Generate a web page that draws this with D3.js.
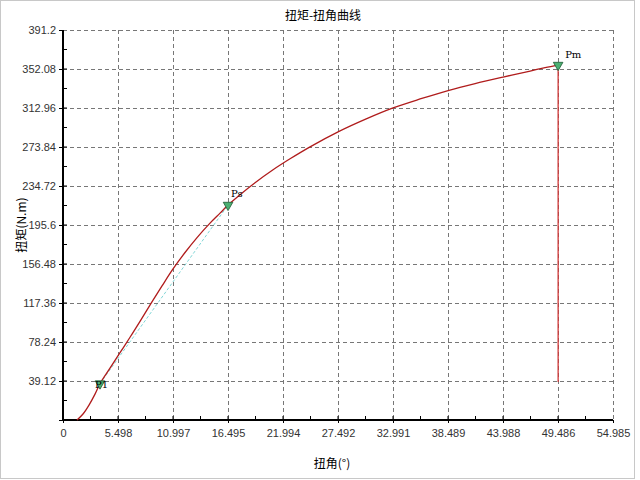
<!DOCTYPE html>
<html>
<head>
<meta charset="utf-8">
<script src="https://cdn.jsdelivr.net/npm/d3@7"></script>
<style>
body { margin:0; background:#fff; }
svg { display:block; }
.tick text { font-family:"Liberation Sans", Arial, sans-serif; font-size:11px; fill:#333; }
</style>
</head>
<body>
<svg id="ChartSvg" width="640" height="480"></svg>
<script>
// curve data (扭角, 扭矩)
var AngleValues = [1.4, 2.0, 2.6, 3.2, 3.7, 4.7, 5.7, 6.7, 7.7, 8.8, 9.9, 11.0, 12.2, 13.4, 14.7, 15.7, 16.5, 17.7, 19.2, 21.0, 22.7, 24.7, 27.5, 30.2, 33.0, 35.7, 38.5, 41.2, 44.0, 46.7, 48.2, 49.5];
var TorqueValues = [0, 6, 15, 26, 36.5, 52, 67.5, 83, 99, 117, 134.5, 151.5, 168, 183, 197.5, 207.5, 215.6, 226, 238, 251, 262, 274, 289, 301.5, 313, 322, 330.5, 337.5, 344, 350, 353.5, 356];

var XTickValues = [0, 5.4985, 10.997, 16.4955, 21.994, 27.4925, 32.991, 38.4895, 43.988, 49.4865, 54.985];
var XTickLabels = ["0","5.498","10.997","16.495","21.994","27.492","32.991","38.489","43.988","49.486","54.985"];
var YTickValues = [0, 39.12, 78.24, 117.36, 156.48, 195.6, 234.72, 273.84, 312.96, 352.08, 391.2];
var YTickLabels = ["","39.12","78.24","117.36","156.48","195.6","234.72","273.84","312.96","352.08","391.2"];

// feature points
var PointNames = ["P1", "Pd", "Pm"];
var PointX = [3.7, 16.5, 49.5];
var PointY = [36.5, 215.6, 356.0];
var DropLineY = [356.0, 38.0];

var Svg = d3.select("#ChartSvg");
var Left = 63, Right = 613, Top = 30, Bottom = 420;

var X = d3.scaleLinear().domain([0, 54.985]).range([Left, Right]);
var Y = d3.scaleLinear().domain([0, 391.2]).range([Bottom, Top]);

// outer frame
Svg.append("rect").attr("x",0.5).attr("y",0.5).attr("width",634).attr("height",478)
	.style("fill","none").style("stroke","#c8c8c8");

// grid
var Grid = Svg.append("g");
Grid.selectAll(".vg").data(XTickValues.slice(1)).enter().append("line")
	.attr("x1",function(d){ return Math.round(X(d))+0.5; })
	.attr("x2",function(d){ return Math.round(X(d))+0.5; })
	.attr("y1",Top).attr("y2",Bottom)
	.style("stroke","#777").style("stroke-dasharray","4,3");
Grid.selectAll(".hg").data(YTickValues.slice(1)).enter().append("line")
	.attr("y1",function(d){ return Math.round(Y(d))+0.5; })
	.attr("y2",function(d){ return Math.round(Y(d))+0.5; })
	.attr("x1",Left).attr("x2",Right)
	.style("stroke","#777").style("stroke-dasharray","4,3");

// axes
var XAxis = d3.axisBottom(X).tickValues(XTickValues)
	.tickFormat(function(d,i){ return XTickLabels[i]; }).tickSize(3).tickPadding(6);
var YAxis = d3.axisLeft(Y).tickValues(YTickValues)
	.tickFormat(function(d,i){ return YTickLabels[i]; }).tickSize(4).tickPadding(3);

var XG = Svg.append("g").attr("transform","translate(0," + Bottom + ")").call(XAxis);
var YG = Svg.append("g").attr("transform","translate(" + Left + ",0)").call(YAxis);
XG.select(".domain").remove();
YG.select(".domain").remove();

// minor ticks inside
var XMinor = d3.range(0, 54.985, 54.985/20);
Svg.append("g").selectAll("line").data(XMinor).enter().append("line")
	.attr("x1",function(d){ return X(d); }).attr("x2",function(d){ return X(d); })
	.attr("y1",Bottom).attr("y2",Bottom-4).style("stroke","#000");
var YMinor = d3.range(0, 391.2, 391.2/20);
Svg.append("g").selectAll("line").data(YMinor).enter().append("line")
	.attr("y1",function(d){ return Y(d); }).attr("y2",function(d){ return Y(d); })
	.attr("x1",Left).attr("x2",Left+4).style("stroke","#000");

Svg.append("line").attr("x1",Left).attr("x2",Left).attr("y1",Top).attr("y2",Bottom+1)
	.style("stroke","#000").style("stroke-width",2);
Svg.append("line").attr("x1",Left-1).attr("x2",Right).attr("y1",Bottom).attr("y2",Bottom)
	.style("stroke","#000").style("stroke-width",2);

// elastic line from P1 to Pd
Svg.append("line")
	.attr("x1",X(PointX[0])).attr("y1",Y(PointY[0]))
	.attr("x2",X(PointX[1])).attr("y2",Y(PointY[1]))
	.style("stroke","#7fd6d6").style("stroke-dasharray","3,2");

// curve
var CurveData = AngleValues.map(function(d,i){ return [d, TorqueValues[i]]; });
var Line = d3.line().x(function(d){ return X(d[0]); }).y(function(d){ return Y(d[1]); }).curve(d3.curveCatmullRom);
Svg.append("path").datum(CurveData).attr("d",Line)
	.style("fill","none").style("stroke","#b01c1c").style("stroke-width",1.3);

// drop line at Pm
Svg.append("line")
	.attr("x1",X(PointX[2])).attr("x2",X(PointX[2]))
	.attr("y1",Y(DropLineY[0])).attr("y2",Y(DropLineY[1]))
	.style("stroke","#d03838").style("stroke-width",1.3);

// markers
var Tri = d3.symbol().type(d3.symbolTriangle).size(40);
Svg.append("g").selectAll("path").data(PointNames).enter().append("path")
	.attr("d",Tri)
	.attr("transform",function(d,i){ return "translate(" + X(PointX[i]) + "," + (Y(PointY[i])) + ") rotate(180)"; })
	.style("fill","#4caf72").style("stroke","#1d5a33").style("stroke-width",0.8);

var LabelDx = [-5, 3, 7];
var LabelDy = [4, -8, -7];
var LabelText = ["P1", "Ps", "Pm"];
Svg.append("g").selectAll("text").data(LabelText).enter().append("text")
	.attr("x",function(d,i){ return X(PointX[i]) + LabelDx[i]; })
	.attr("y",function(d,i){ return Y(PointY[i]) + LabelDy[i]; })
	.style("font-family","'DejaVu Serif', serif").style("font-size","10px")
	.style("fill","#000")
	.text(function(d){ return d; });

// titles
Svg.append("text").attr("x",323).attr("y",20).attr("text-anchor","middle")
	.style("font-family","'Noto Sans CJK SC', sans-serif").style("font-size","12px")
	.text("扭矩-扭角曲线");
Svg.append("text").attr("x",332).attr("y",468).attr("text-anchor","middle")
	.style("font-family","'Noto Sans CJK SC', sans-serif").style("font-size","12px")
	.text("扭角(°)");
Svg.append("text").attr("transform","translate(26,225) rotate(-90)").attr("text-anchor","middle")
	.style("font-family","'Noto Sans CJK SC', sans-serif").style("font-size","12px")
	.text("扭矩(N.m)");
</script>
</body>
</html>
